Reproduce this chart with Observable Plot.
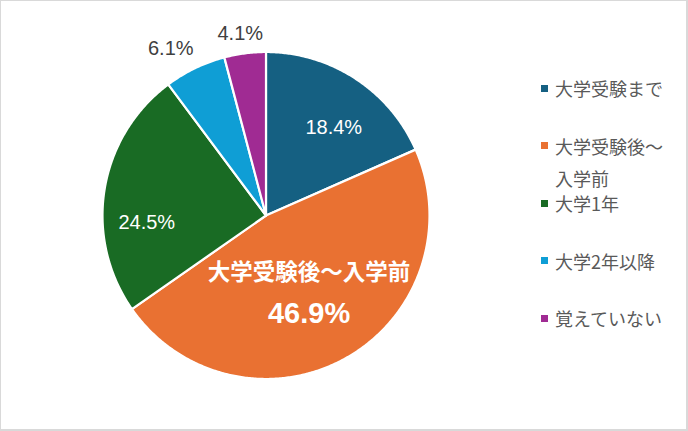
<!DOCTYPE html>
<html>
<head>
<meta charset="utf-8">
<script src="https://cdn.jsdelivr.net/npm/d3@7"></script>
<script src="https://cdn.jsdelivr.net/npm/@observablehq/plot@0.6"></script>
<style>
  body { margin: 0; background: #fff; }
  #wrap { position: relative; width: 688px; height: 431px; overflow: hidden; background: #fff; }
  #frame { position: absolute; left: 0; top: 0; width: 688px; height: 431px; box-sizing: border-box;
    border-left: 1px solid #d9d9d9; border-top: 1px solid #d9d9d9;
    border-right: 2px solid #d9d9d9; border-bottom: 2px solid #d9d9d9; pointer-events: none; }
  #legend { position: absolute; left: 541px; top: 0; width: 140px; height: 431px;
    font-family: "Noto Sans CJK JP", sans-serif; font-size: 18px; color: #595959; }
  .item { position: absolute; left: 0; width: 140px; display: flex; align-items: flex-start; line-height: 32px; }
  .sw { width: 7px; height: 7px; flex: none; margin-top: 12.5px; margin-right: 7px; }
  .txt { width: 112px; }
</style>
</head>
<body>
<div id="wrap">
  <div id="chart"></div>
  <div id="legend"></div>
  <div id="frame"></div>
</div>
<script>
const categories = ["大学受験まで", "大学受験後～入学前", "大学1年", "大学2年以降", "覚えていない"];
const values = [18.4, 46.9, 24.5, 6.1, 4.1];
const valueLabels = ["18.4%", "46.9%", "24.5%", "6.1%", "4.1%"];
const colors = ["#156082", "#E97132", "#196B24", "#0F9ED5", "#A02B93"];

// slice polygons in unit-circle data coordinates (angle 0 at 12 o'clock, clockwise)
const arcs = d3.pie().sort(null)(values);
const slicePts = [];
arcs.forEach((a, i) => {
  const n = Math.max(2, Math.ceil((a.endAngle - a.startAngle) / (Math.PI / 360)));
  slicePts.push({name: categories[i], x: 0, y: 0});
  for (let j = 0; j <= n; j++) {
    const t = a.startAngle + (a.endAngle - a.startAngle) * j / n;
    slicePts.push({name: categories[i], x: Math.sin(t), y: Math.cos(t)});
  }
  slicePts.push({name: categories[i], x: 0, y: 0});
});

function polar(i, k) {
  const a = arcs[i];
  const m = (a.startAngle + a.endAngle) / 2;
  return {x: k * Math.sin(m), y: k * Math.cos(m)};
}

const numFont = '"Liberation Sans", Arial, "Noto Sans CJK JP", sans-serif';
const labelStyle = [
  {k: 0.68, dx: 7, dy: 5, fill: "white"},
  null,
  {k: 0.72, dx: -3, dy: 26, fill: "white"},
  {k: 1.13, dx: -15, dy: 0, fill: "#404040"},
  {k: 1.13, dx: -2, dy: 1, fill: "#404040"}
];

const marks = [
  Plot.line(slicePts, {x: "x", y: "y", z: "name", fill: "name", stroke: "white",
    strokeWidth: 2.2, strokeLinejoin: "round", curve: "linear"})
];
labelStyle.forEach((s, i) => {
  if (!s) return;
  const p = polar(i, s.k);
  marks.push(Plot.text([{...p, label: valueLabels[i]}], {x: "x", y: "y", text: "label",
    fill: s.fill, fontSize: 20, fontFamily: numFont, dx: s.dx, dy: s.dy}));
});
{
  const p = polar(1, 0.55);
  marks.push(Plot.text([{...p, label: categories[1]}], {x: "x", y: "y", text: "label",
    fill: "white", fontSize: 22.5, fontWeight: "bold", fontFamily: '"Noto Sans CJK JP", sans-serif', dx: -1, dy: -21}));
  marks.push(Plot.text([{...p, label: valueLabels[1]}], {x: "x", y: "y", text: "label",
    fill: "white", fontSize: 29, fontWeight: "bold", fontFamily: numFont, dx: -1, dy: 19.5}));
}

const chart = Plot.plot({
  width: 688,
  height: 431,
  marginLeft: 102,
  marginRight: 259,
  marginTop: 51.5,
  marginBottom: 52.5,
  x: {domain: [-1, 1], axis: null},
  y: {domain: [-1, 1], axis: null},
  color: {domain: categories, range: colors},
  style: {background: "white", overflow: "visible"},
  marks
});
document.getElementById("chart").appendChild(chart);

const legend = document.getElementById("legend");
categories.forEach((c, i) => {
  const item = document.createElement("div");
  item.className = "item";
  item.style.top = (88.3 + 57.5 * i - 16) + "px";
  const sw = document.createElement("div");
  sw.className = "sw";
  sw.style.background = colors[i];
  const t = document.createElement("div");
  t.className = "txt";
  t.textContent = c;
  item.appendChild(sw);
  item.appendChild(t);
  legend.appendChild(item);
});
</script>
</body>
</html>
